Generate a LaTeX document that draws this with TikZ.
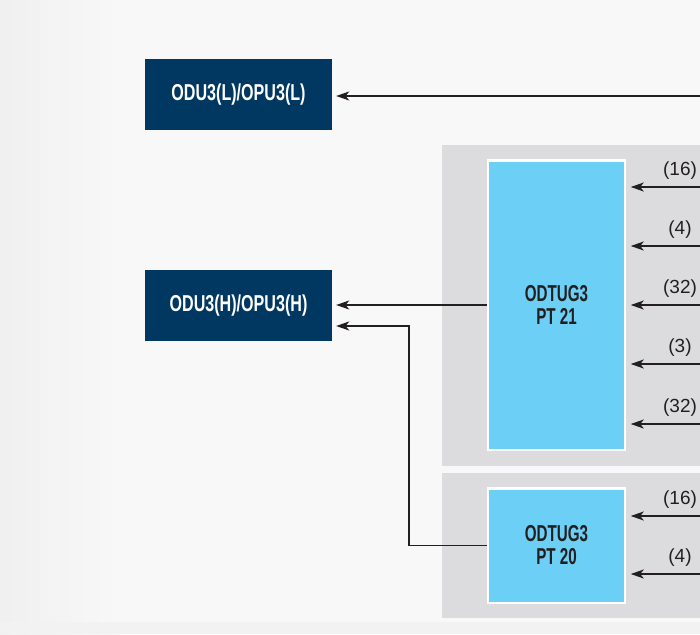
\documentclass[tikz,border=0pt]{standalone}
\usepackage{fontspec}
\setmainfont{Liberation Sans}
\usetikzlibrary{arrows.meta}
\definecolor{navy}{HTML}{003862}
\definecolor{lblue}{HTML}{6BCFF6}
\definecolor{panelgray}{HTML}{DCDCDE}
\definecolor{bgc}{HTML}{F8F8F8}
\definecolor{ink}{HTML}{231F20}
\newcommand{\cond}[1]{\scalebox{0.70}[1]{#1}}
\newcommand{\condt}[1]{\scalebox{0.66}[1]{#1}}
\tikzset{
  darkbox/.style={fill=navy, draw=none, minimum width=187pt, minimum height=71pt, inner sep=0pt,
    text=white, font=\bfseries\fontsize{23}{24}\selectfont},
  tugbox/.style={fill=lblue, draw=white, line width=2.5pt, minimum width=137pt, inner sep=0pt,
    text=ink, align=center, font=\bfseries\fontsize{23}{23}\selectfont},
  panel/.style={fill=panelgray, draw=none},
  conn/.style={draw=ink, line width=1.5pt, -{Stealth[length=13pt,width=9pt,inset=3.5pt]}},
  lbl/.style={anchor=south, inner sep=0pt, text=ink, font=\fontsize{19}{19}\selectfont}
}
\begin{document}
\begin{tikzpicture}[x=1pt,y=-1pt]
\useasboundingbox (0,0) rectangle (700,634);
% background
\fill[bgc] (0,0) rectangle (700,634);
\shade[left color=black!6, right color=bgc] (0,0) rectangle (120,634);
\fill[black!5] (0,622) rectangle (700,634);
% panels
\fill[panel] (442,145) rectangle (700,466);
\fill[panel] (442,473) rectangle (700,618);
% boxes
\node[darkbox] (L) at (238.5,94.5) {\cond{ODU3(L)/OPU3(L)}};
\node[darkbox] (H) at (238.5,305.5) {\cond{ODU3(H)/OPU3(H)}};
\node[tugbox, minimum height=289.5pt] (P21) at (556.5,305) {\condt{ODTUG3}\\\condt{PT 21}};
\node[tugbox, minimum height=114.5pt] (P20) at (556.5,545.5) {\condt{ODTUG3}\\\condt{PT 20}};
% right-side free ends
\coordinate (inL) at (700,96);
\coordinate (a1) at (700,187);
\coordinate (a2) at (700,246);
\coordinate (a3) at (700,305);
\coordinate (a4) at (700,364);
\coordinate (a5) at (700,424);
\coordinate (b1) at (700,516);
\coordinate (b2) at (700,574);
\coordinate (bend) at (409,326);
% connectors
\draw[conn, shorten >=4pt] (inL) -- (inL -| L.east);
\foreach \c in {a1,a2,a3,a4,a5} \draw[conn, shorten >=4.5pt] (\c) -- (\c -| P21.east);
\foreach \c in {b1,b2} \draw[conn, shorten >=4.5pt] (\c) -- (\c -| P20.east);
\draw[conn, shorten >=4pt] (P21.west) -- (P21.west -| H.east);
\draw[conn, shorten >=4pt] (P20.west) -| (bend) -- (bend -| H.east);
% labels
\node[lbl] (l1) at (680,180) {(16)};
\node[lbl] (l2) at (680,239) {(4)};
\node[lbl] (l3) at (680,298) {(32)};
\node[lbl] (l4) at (680,357) {(3)};
\node[lbl] (l5) at (680,417) {(32)};
\node[lbl] (l6) at (680,509) {(16)};
\node[lbl] (l7) at (680,567) {(4)};
\end{tikzpicture}
\end{document}
